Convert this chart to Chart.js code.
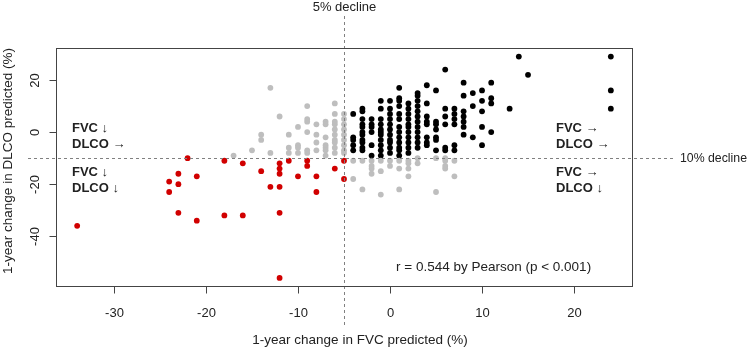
<!DOCTYPE html>
<html>
<head>
<meta charset="utf-8">
<script src="https://cdn.jsdelivr.net/npm/chart.js@4/dist/chart.umd.min.js"></script>
<style>
	html, body { margin: 0; padding: 0; background: #fff; }
	#wrap { width: 748px; height: 349px; }
</style>
</head>
<body>
<div id="wrap"><canvas id="c" width="748" height="349"></canvas></div>
<script>
// axis ticks and limits
const xTicks = [-30, -20, -10, 0, 10, 20]
const yTicks = [20, 0, -20, -40]
const xRange = [-36.3, 26.3]
const yRange = [-59.1, 32.3]
const fvcCut = -5
const dlcoCut = -10

// [FVC change, DLCO change]
const blackPts = [
	[-4,7],[-4,-2],[-4,-3],[-4,-5],[-4,-7],
	[-3,9],[-3,8],[-3,5],[-3,3],[-3,2],[-3,0],[-3,-1],[-3,-3],[-3,-4],[-3,-6],[-3,-7],
	[-2,5],[-2,3],[-2,2],[-2,0],[-2,-5],[-2,-9],
	[-1,12],[-1,9],[-1,5],[-1,3],[-1,1],[-1,0],[-1,-1],[-1,-3],[-1,-5],[-1,-7],[-1,-9],
	[0,12],[0,9],[0,7],[0,5],[0,3],[0,1],[0,-1],[0,-3],[0,-4],[0,-6],[0,-8],
	[1,17],[1,13],[1,12],[1,10],[1,7],[1,5],[1,2],[1,0],[1,-2],[1,-4],[1,-6],[1,-7],[1,-9],
	[2,11],[2,9],[2,7],[2,5],[2,3],[2,2],[2,0],[2,-2],[2,-4],[2,-6],[2,-8],
	[3,15],[3,14],[3,12],[3,10],[3,8],[3,6],[3,4],[3,2],[3,0],[3,-2],[3,-4],[3,-6],
	[4,18],[4,11],[4,6],[4,4],[4,3],[4,-2],[4,-4],[4,-5],
	[5,16],[5,4],[5,3],[5,1],[5,-2],[5,-3],[5,-7],
	[6,24],[6,9],[6,6],[6,3],[6,-6],[6,-7],
	[7,9],[7,7],[7,5],[7,3],[7,-5],[7,-7],
	[8,19],[8,14],[8,8],[8,6],[8,4],[8,2],[8,-1],
	[9,15],[9,10],[9,-2],
	[10,16],[10,12],[10,8],[10,2],[10,-5],
	[11,19],[11,13],[11,11],[11,0],
	[13,9],[14,29],[15,22],[24,29],[24,16],[24,9]
]
const greyPts = [
	[-17,-9],[-15,-7],[-14,-1],[-14,-3],[-13,17],[-13,-8],[-12,6],
	[-11,-1],[-11,-6],[-11,-8],[-10,2],[-10,-5],[-10,-6],[-10,-8],
	[-9,10],[-9,5],[-9,4],[-9,0],[-9,-7],[-9,-8],
	[-8,3],[-8,-1],[-8,-4],[-8,-7],
	[-7,4],[-7,3],[-7,-2],[-7,-5],[-7,-6],[-7,-7],[-7,-9],
	[-6,11],[-6,7],[-6,4],[-6,3],[-6,1],[-6,-1],[-6,-3],[-6,-4],[-6,-6],[-6,-8],
	[-5,7],[-5,5],[-5,3],[-5,1],[-5,-1],[-5,-3],[-5,-5],[-5,-7],[-5,-8],
	[-4,-11],[-4,-18],[-3,-11],[-3,-22],[-2,-11],[-2,-13],[-2,-14],[-2,-16],
	[-1,-11],[-1,-15],[-1,-24],[0,-11],[0,-13],[1,-11],[1,-14],[1,-22],
	[2,-11],[2,-12],[2,-14],[2,-17],[3,-10],[3,-12],[5,-10],[5,-23],
	[6,-10],[6,-11],[6,-13],[6,-14],[7,-11],[7,-17]
]
const redPts = [
	[-34,-36],[-24,-19],[-24,-23],[-23,-16],[-23,-20],[-23,-31],[-22,-10],
	[-21,-17],[-21,-34],[-18,-11],[-18,-32],[-16,-12],[-16,-32],[-14,-15],
	[-13,-21],[-12,-12],[-12,-14],[-12,-16],[-12,-21],[-12,-31],[-12,-56],
	[-11,-11],[-10,-17],[-9,-11],[-9,-13],[-8,-17],[-8,-23],[-6,-14],[-5,-11],[-5,-18]
]

const FONT = '"Liberation Sans", Arial, sans-serif'
const toXY = pts => pts.map(p => ({x: p[0], y: p[1]}))
const dots = (pts, col) => ({
	data: toXY(pts),
	backgroundColor: col,
	borderWidth: 0,
	pointRadius: 2.9,
	pointHoverRadius: 2.9,
})

// R style frame, ticks, cut lines and notes
const rFrame = {
	id: 'rFrame',
	afterDraw: c => {
		const ctx = c.ctx, a = c.chartArea, sx = c.scales.x, sy = c.scales.y
		ctx.save()

		// dotted cut lines
		ctx.strokeStyle = '#808080'
		ctx.lineWidth = 1
		ctx.setLineDash([3, 3])
		const cx = Math.round(sx.getPixelForValue(fvcCut)) + 0.5
		ctx.beginPath(); ctx.moveTo(cx, 16); ctx.lineTo(cx, 326); ctx.stroke()
		const cy = Math.round(sy.getPixelForValue(dlcoCut)) + 0.5
		ctx.beginPath(); ctx.moveTo(28, cy); ctx.lineTo(673, cy); ctx.stroke()
		ctx.setLineDash([])

		// box
		ctx.strokeStyle = '#444'
		const L = Math.round(a.left) + 0.5, R = Math.round(a.right) + 0.5
		const T = Math.round(a.top) + 0.5, B = Math.round(a.bottom) + 0.5
		ctx.strokeRect(L, T, R - L, B - T)

		ctx.fillStyle = '#222'
		ctx.font = '13px ' + FONT

		// x axis
		ctx.textAlign = 'center'
		ctx.textBaseline = 'middle'
		xTicks.forEach(v => {
			const p = Math.round(sx.getPixelForValue(v)) + 0.5
			ctx.beginPath(); ctx.moveTo(p, B); ctx.lineTo(p, B + 7); ctx.stroke()
			ctx.fillText(String(v), p, 313)
		})

		// y axis
		yTicks.forEach(v => {
			const p = Math.round(sy.getPixelForValue(v)) + 0.5
			ctx.beginPath(); ctx.moveTo(L, p); ctx.lineTo(L - 7, p); ctx.stroke()
			ctx.save(); ctx.translate(35, p); ctx.rotate(-Math.PI / 2)
			ctx.fillText(String(v), 0, 0); ctx.restore()
		})

		// cut labels
		ctx.fillText('5% decline', cx, 7)
		ctx.textAlign = 'left'
		ctx.fillText('10% decline', 680, cy, 67)

		// titles and r
		ctx.font = '13.5px ' + FONT
		ctx.textAlign = 'center'
		ctx.fillText('1-year change in FVC predicted (%)', 360, 340)
		ctx.save(); ctx.translate(8, 161); ctx.rotate(-Math.PI / 2)
		ctx.fillText('1-year change in DLCO predicted (%)', 0, 0); ctx.restore()
		ctx.textAlign = 'left'
		ctx.fillText('r = 0.544 by Pearson (p < 0.001)', 396, 267)

		// quadrant notes
		ctx.font = 'bold 13px ' + FONT
		ctx.fillText('FVC \u2193', 72, 128)
		ctx.fillText('DLCO \u2192', 72, 144)
		ctx.fillText('FVC \u2193', 72, 172)
		ctx.fillText('DLCO \u2193', 72, 188)
		ctx.fillText('FVC \u2192', 556, 128)
		ctx.fillText('DLCO \u2192', 556, 144)
		ctx.fillText('FVC \u2192', 556, 172)
		ctx.fillText('DLCO \u2193', 556, 188)

		ctx.restore()
	}
}

new Chart(document.getElementById('c'), {
	type: 'scatter',
	data: {
		datasets: [
			dots(greyPts, '#bebebe'),
			dots(redPts, '#d10000'),
			dots(blackPts, '#000000'),
		]
	},
	options: {
		responsive: false,
		animation: false,
		devicePixelRatio: 1,
		layout: { padding: { left: 56, right: 116, top: 48, bottom: 63 } },
		plugins: {
			legend: { display: false },
			tooltip: { enabled: false },
		},
		scales: {
			x: { type: 'linear', min: xRange[0], max: xRange[1], display: false },
			y: { type: 'linear', min: yRange[0], max: yRange[1], display: false },
		},
	},
	plugins: [rFrame]
})
</script>
</body>
</html>
